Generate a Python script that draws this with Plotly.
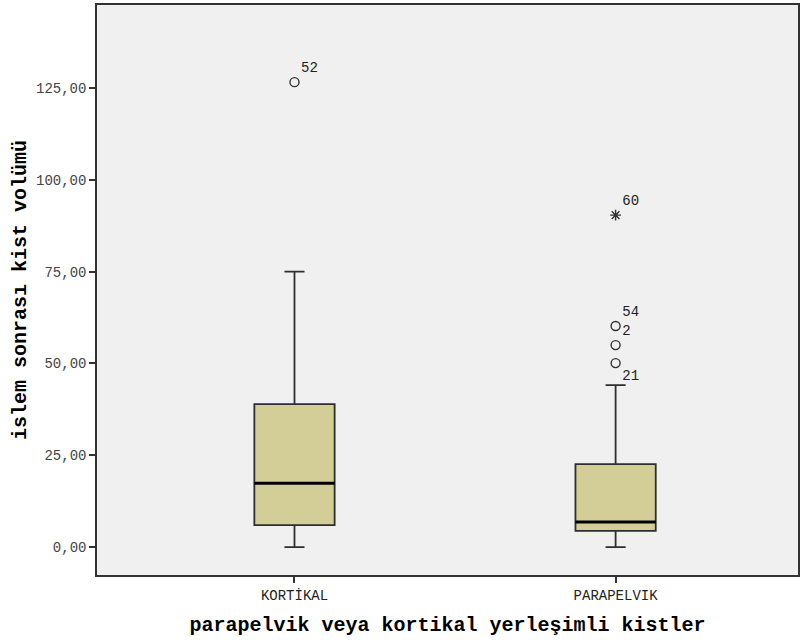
import plotly.graph_objects as go

# Group summary statistics (volume after procedure)
categories = ["KORTİKAL", "PARAPELVIK"]
q1 = [6.0, 4.4]
median = [17.4, 6.8]
q3 = [38.9, 22.6]
lower_whisker = [0.0, 0.0]
upper_whisker = [75.0, 44.1]

# Outlying cases: group index, value, case id, kind
outlier_group = [0, 1, 1, 1, 1]
outlier_value = [126.6, 90.4, 60.2, 55.0, 50.1]
outlier_id = ["52", "60", "54", "2", "21"]
outlier_kind = ["circle", "extreme", "circle", "circle", "circle"]
outlier_label_pos = ["top right", "top right", "top right", "top right", "bottom right"]

y_tick_vals = [0, 25, 50, 75, 100, 125]
y_tick_text = ["0,00", "25,00", "50,00", "75,00", "100,00", "125,00"]

box_width = 0.25
box_fill = "#D3CE98"
edge = "#2e2e2e"
mono = "Liberation Mono"

fig = go.Figure()

xs = list(range(len(categories)))
fig.add_trace(go.Box(
    x=xs,
    q1=q1, median=median, q3=q3,
    lowerfence=lower_whisker, upperfence=upper_whisker,
    width=box_width,
    whiskerwidth=0.25,
    fillcolor=box_fill,
    line=dict(color=edge, width=1.8),
    boxpoints=False,
    hoverinfo="skip",
    showlegend=False,
))

# Heavier median bars
for i, m in enumerate(median):
    fig.add_trace(go.Scatter(
        x=[xs[i] - box_width / 2, xs[i] + box_width / 2], y=[m, m],
        mode="lines", line=dict(color="black", width=3),
        hoverinfo="skip", showlegend=False,
    ))

symbol_map = {"circle": "circle-open", "extreme": "asterisk-open"}
fig.add_trace(go.Scatter(
    x=[xs[g] for g in outlier_group],
    y=outlier_value,
    mode="markers+text",
    marker=dict(symbol=[symbol_map[k] for k in outlier_kind], size=9,
                color="#333333", line=dict(color="#333333", width=1.4)),
    text=outlier_id,
    textposition=outlier_label_pos,
    textfont=dict(family=mono, size=14, color="#222222"),
    hoverinfo="skip",
    showlegend=False,
))

fig.update_layout(
    width=803, height=640,
    margin=dict(l=97, r=3, t=5, b=65),
    paper_bgcolor="white",
    plot_bgcolor="#F0F0F0",
    xaxis=dict(
        range=[-0.615, 1.568],
        tickvals=xs, ticktext=categories,
        showgrid=False, zeroline=False,
        showline=True, linecolor="#333333", linewidth=1.5, mirror=True,
        ticks="outside", ticklen=6, tickcolor="#333333", tickwidth=1.5,
        tickfont=dict(family=mono, size=14, color="#222222"),
        title=dict(text="<b>parapelvik veya kortikal yerleşimli kistler</b>",
                   font=dict(family=mono, size=20, color="black"),
                   standoff=14),
    ),
    yaxis=dict(
        range=[-7.6, 147.6],
        tickvals=y_tick_vals, ticktext=y_tick_text,
        showgrid=False, zeroline=False,
        showline=True, linecolor="#333333", linewidth=1.5, mirror=True,
        ticks="outside", ticklen=6, tickcolor="#333333", tickwidth=1.5,
        tickfont=dict(family=mono, size=14, color="#444444"),
        title=dict(text="<b>islem sonrası kist volümü</b>",
                   font=dict(family=mono, size=20, color="black"),
                   standoff=4),
    ),
)

fig.write_html("out.html")
